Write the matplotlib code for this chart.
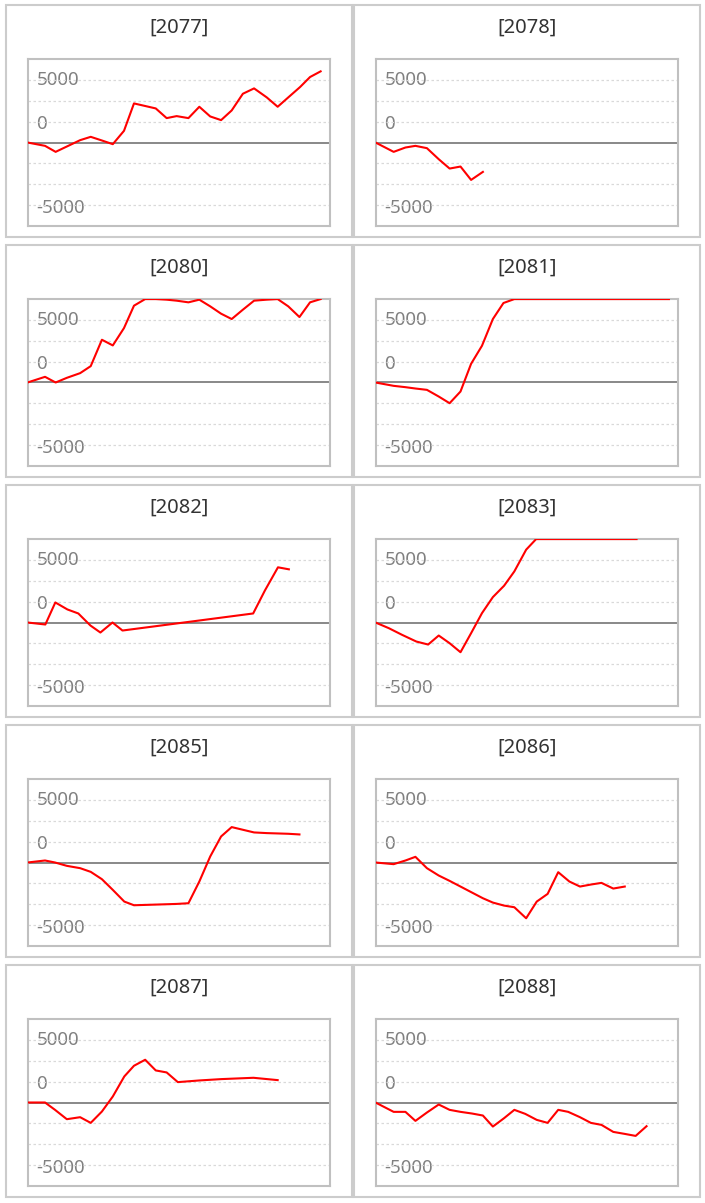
import matplotlib.pyplot as plt
from matplotlib.patches import Rectangle

years = ["2077", "2078", "2080", "2081", "2082", "2083", "2085", "2086", "2087", "2088"]

x_2077 = [0, 5.8, 9.3, 13, 17.4, 20.9, 24.6, 28.2, 31.9, 35.2, 42.4, 46.0, 49.3, 53.2, 56.8,
          60.4, 64.0, 67.5, 71.2, 74.9, 79.1, 82.7, 86.2, 90.1, 93.4, 96.9]
y_2077 = [0, -267, -747, -320, 187, 453, 160, -133, 933, 3120, 2720, 1947, 2107, 1947, 2853,
          2080, 1787, 2560, 3893, 4320, 3600, 2853, 3600, 4427, 5227, 5680]

x_2078 = [0, 6.0, 9.9, 13.2, 17.0, 20.9, 24.5, 28.1, 31.6, 35.5]
y_2078 = [0, -747, -400, -267, -453, -1333, -2080, -1920, -2987, -2347]

x_2080 = [0, 5.8, 9.3, 13, 17.4, 20.9, 24.6, 28.2, 31.9, 35.2, 38.9, 42.4, 46.0, 49.3, 53.2,
          56.8, 60.4, 64.0, 67.5, 71.2, 74.9, 79.1, 82.7, 86.2, 89.9, 93.4, 96.9]
y_2080 = [0, 453, 0, 373, 747, 1307, 3413, 2960, 4347, 6133, 6660, 6660, 6613, 6533, 6400,
          6613, 6080, 5493, 5067, 5813, 6533, 6613, 6660, 6080, 5227, 6400, 6660]

x_2081 = [0, 6.0, 9.9, 13.2, 17.0, 20.9, 24.5, 28.1, 31.6, 35.2, 38.8, 42.3, 45.9, 60, 80, 97]
y_2081 = [0, -267, -373, -480, -587, -1120, -1653, -720, 1493, 2933, 5067, 6347, 6660, 6660,
          6660, 6660]

x_2082 = [0, 5.9, 9.2, 13.2, 16.8, 20.8, 24.1, 28.1, 31.4, 74.6, 78.5, 82.8, 86.4]
y_2082 = [0, -160, 1600, 1041, 721, -240, -801, 0, -641, 721, 2563, 4406, 4246]

x_2083 = [0, 4.4, 8.8, 13.5, 17.4, 20.9, 24.5, 28.1, 31.6, 35.2, 38.8, 42.5, 45.9, 49.8, 53.1,
          70, 86.3]
y_2083 = [0, -453, -987, -1520, -1760, -1040, -1653, -2373, -853, 747, 2027, 2933, 4080, 5813,
          6660, 6660, 6660]

x_2085 = [0, 5.8, 9.1, 13, 17.4, 20.9, 24.6, 28.2, 32.0, 35.2, 42.4, 46, 49.3, 53.2, 56.8,
          60.4, 64, 67.5, 71.2, 74.9, 79.1, 82.7, 86.2, 89.9]
y_2085 = [0, 160, 0, -267, -453, -747, -1333, -2187, -3120, -3413, -3360, -3333, -3307, -3253,
          -1520, 480, 2080, 2827, 2613, 2400, 2347, 2320, 2293, 2240]

x_2086 = [0, 6.0, 9.9, 13.2, 17.0, 20.9, 24.5, 28.1, 31.9, 35.5, 38.8, 42.5, 45.9, 49.8, 53.3,
          56.9, 60.4, 64.1, 67.6, 71.2, 74.7, 78.6, 82.4]
y_2086 = [0, -133, 160, 453, -453, -1040, -1467, -1920, -2400, -2853, -3200, -3440, -3573,
          -4453, -3120, -2507, -773, -1520, -1920, -1760, -1627, -2080, -1920]

x_2087 = [0, 5.8, 9.1, 13, 17.4, 20.9, 24.6, 28.2, 32, 35.2, 38.9, 42.4, 46, 49.7, 56.8, 64,
          74.7, 82.7]
y_2087 = [0, 0, -587, -1333, -1173, -1627, -720, 480, 2080, 2933, 3413, 2560, 2400, 1627, 1760,
          1867, 1973, 1787]

x_2088 = [0, 6, 9.9, 13.2, 17, 20.9, 24.5, 28.1, 31.9, 35.5, 38.8, 42.5, 45.9, 49.5, 53.3, 56.9,
          60.4, 63.7, 67.6, 71.2, 74.7, 78.6, 82.4, 86, 89.6]
y_2088 = [0, -747, -747, -1467, -800, -160, -587, -747, -880, -1040, -1920, -1253, -587, -907,
          -1387, -1627, -587, -747, -1173, -1627, -1787, -2347, -2507, -2667, -1893]

series = [(x_2077, y_2077), (x_2078, y_2078), (x_2080, y_2080), (x_2081, y_2081),
          (x_2082, y_2082), (x_2083, y_2083), (x_2085, y_2085), (x_2086, y_2086),
          (x_2087, y_2087), (x_2088, y_2088)]

W, H = 705, 1203
step = 5000 / 3
ylim = 4 * step

plt.rcParams['font.family'] = ['Noto Sans', 'DejaVu Sans']
fig = plt.figure(figsize=(W / 100, H / 100), dpi=100)


def fx(px):
    return px / W


def fy(py):
    return 1 - py / H


for i, (year, (xs, ys)) in enumerate(zip(years, series)):
    r, c = divmod(i, 2)
    # outer panel frame
    left = 6 if c == 0 else 354
    right = 352 if c == 0 else 700
    top = 5 + 240 * r
    bottom = 237 + 240 * r
    fig.patches.append(Rectangle((fx(left), fy(bottom)), fx(right - left), (bottom - top) / H,
                                 transform=fig.transFigure, fill=False,
                                 edgecolor='#cccccc', linewidth=1.5))
    fig.text(fx((left + right) / 2), fy(top + 23), "[" + year + "]", ha='center', va='center',
             fontsize=14.5, color='#333333')

    ax_left = 27.5 if c == 0 else 375.5
    ax_top = 59 + 240 * r
    ax = fig.add_axes([fx(ax_left), fy(ax_top + 167), fx(302.5), 167 / H])
    ax.set_xlim(0, 100)
    ax.set_ylim(-ylim, ylim)
    ax.set_xticks([])
    ax.set_yticks([])
    for k in (1, 2, 3):
        for s in (1, -1):
            ax.axhline(s * k * step, color='#d9d9d9', linewidth=0.9, linestyle=(0, (2, 2)),
                       zorder=1)
    ax.axhline(0, color='#7f7f7f', linewidth=1.3, zorder=1.5)
    for sp in ax.spines.values():
        sp.set_color('#c0c0c0')
        sp.set_linewidth(1.5)
        sp.set_zorder(1.8)
    ax.plot(xs, ys, color='#ff0000', linewidth=1.5, zorder=2)

    for val, lab in ((5000, "5000"), (1450, "0"), (-5200, "-5000")):
        ax.text(0.03, val, lab, transform=ax.get_yaxis_transform(), ha='left', va='center',
                fontsize=13.5, color='#808080', zorder=0.5)

fig.savefig("out.png", dpi=100)
